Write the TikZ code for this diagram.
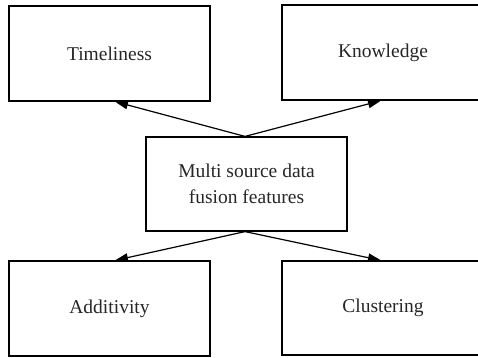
\documentclass[tikz,border=0pt]{standalone}
\usepackage{fontspec}
\setmainfont{Liberation Serif}
\usetikzlibrary{arrows.meta}
\tikzset{
  box/.style={draw, line width=1.2pt, rectangle, inner sep=0pt, align=center,
    font=\fontsize{19.5}{26}\selectfont, text=black!85},
  link/.style={line width=1.2pt, -{Triangle[length=13pt,width=8.5pt]}},
}
\begin{document}
\begin{tikzpicture}[x=1pt,y=-1pt]
\path[use as bounding box] (0,0) rectangle (478,357);
\clip (0,0) rectangle (478,357);
\node[box, minimum width=201pt, minimum height=95pt] (t) at (109.5,53.5) {Timeliness};
\node[box, minimum width=202pt, minimum height=95pt] (k) at (383,52.5) {Knowledge};
\node[box, minimum width=201pt, minimum height=94pt] (c) at (246.5,184) {Multi source data\\fusion features};
\node[box, minimum width=201pt, minimum height=95pt] (a) at (109.5,308.5) {Additivity};
\node[box, minimum width=202pt, minimum height=94pt] (l) at (383,308) {Clustering};
\draw[link] ([xshift=-1.5pt]c.north) -- ([xshift=5.5pt]t.south);
\draw[link] ([xshift=-1.5pt]c.north) -- ([xshift=-2pt]k.south);
\draw[link] ([xshift=-1.5pt]c.south) -- ([xshift=5.5pt]a.north);
\draw[link] ([xshift=-1.5pt]c.south) -- ([xshift=-2pt]l.north);
\end{tikzpicture}
\end{document}
